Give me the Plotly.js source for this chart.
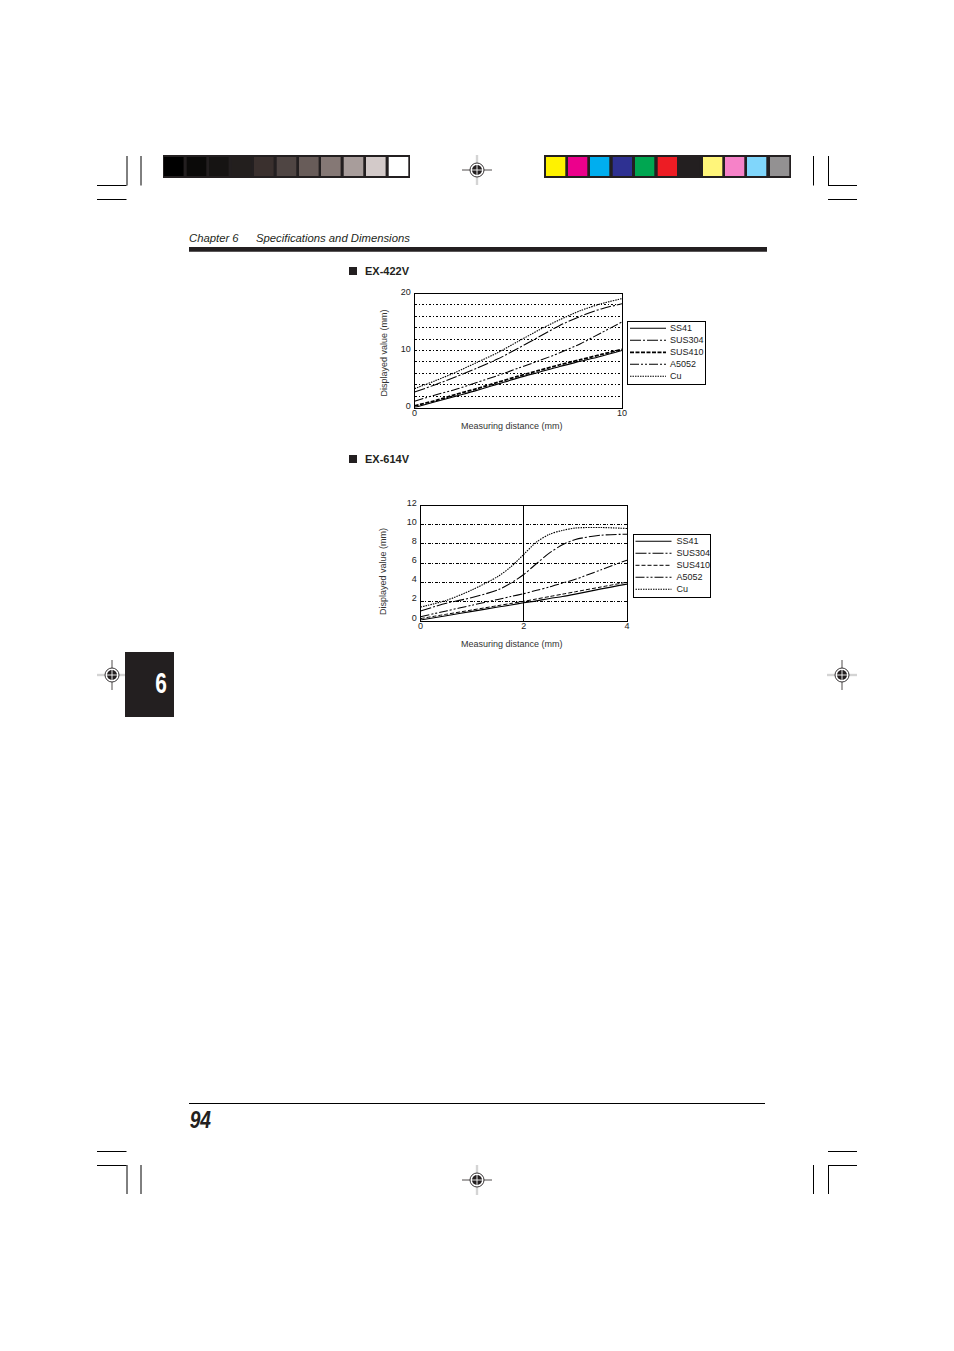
<!DOCTYPE html>
<html><head><meta charset="utf-8">
<script src="https://cdn.plot.ly/plotly-3.0.1.min.js"></script>
<style>html,body{margin:0;padding:0;background:#fff}#c{width:954px;height:1351px}</style></head>
<body><div id="c"></div>
<script>
// ---- data ----
const seriesNames = ['SS41','SUS304','SUS410','A5052','Cu'];

const a_x      = [0,1,2,3,4,5,6,7,8,9,10];
const a_ss41   = [0,1.0,2.0,3.0,4.1,5.2,6.2,7.2,8.1,9.0,10.0];
const a_sus304 = [2.7,4.0,5.4,6.9,8.5,10.4,12.4,14.4,16.0,17.3,18.2];
const a_sus410 = [0.3,1.2,2.3,3.3,4.4,5.5,6.5,7.5,8.4,9.3,10.2];
const a_a5052  = [1.1,2.2,3.2,4.4,5.6,6.9,8.2,9.6,11.2,13.1,15.0];
const a_cu     = [3.3,4.7,6.2,7.9,9.6,11.6,13.6,15.4,17.0,18.2,19.1];

const b_x      = [0,0.5,1,1.5,1.75,2,2.25,2.5,2.75,3,3.5,4];
const b_ss41   = [0.05,0.5,0.95,1.4,1.62,1.85,2.05,2.3,2.5,2.75,3.3,3.8];
const b_sus304 = [1.0,1.8,2.4,3.2,3.9,4.8,5.95,7.05,7.9,8.45,8.9,9.0];
const b_sus410 = [0.2,0.65,1.1,1.55,1.78,2.0,2.25,2.5,2.75,3.0,3.5,4.0];
const b_a5052  = [0.4,1.0,1.6,2.2,2.5,2.8,3.15,3.5,3.9,4.3,5.3,6.3];
const b_cu     = [1.4,2.1,3.2,4.6,5.6,6.9,8.2,9.0,9.4,9.65,9.7,9.6];

const a_yTicks = [0,2,4,6,8,10,12,14,16,18,20];
const a_yText  = ['0','','','','','10','','','','','20'];
const a_xTicks = [0,10];
const b_yTicks = [0,2,4,6,8,10,12];
const b_xTicks = [0,2,4];

const grayPatches  = ['#000000','#0b0a09','#161413','#231f1e','#3a302e','#4f4543','#685c59','#857875','#a89d9b','#d3cac9','#ffffff'];
const colorPatches = ['#fff200','#ec008c','#00aeef','#2e3192','#00a651','#ed1c24','#231f20','#fff57a','#f682c8','#80d6fb','#939192'];

// ---- helpers ----
const W = 954, H = 1351, INK = '#231f20', FONT = '"Liberation Sans", Arial, sans-serif';
const px = x => x / W, py = y => 1 - y / H;
const shapes = [], annotations = [];
const rect = (x0,y0,x1,y1,fill) => shapes.push({type:'rect',xref:'paper',yref:'paper',x0:px(x0),x1:px(x1),y0:py(y0),y1:py(y1),fillcolor:fill,line:{width:0},layer:'below'});
const seg = (x0,y0,x1,y1,color,w) => shapes.push({type:'line',xref:'paper',yref:'paper',x0:px(x0),x1:px(x1),y0:py(y0),y1:py(y1),line:{color:color||'#000000',width:w||1},layer:'below'});
const circ = (cx,cy,r,fill,lc,lw) => shapes.push({type:'circle',xref:'paper',yref:'paper',x0:px(cx-r),x1:px(cx+r),y0:py(cy+r),y1:py(cy-r),fillcolor:fill,line:{color:lc||fill,width:lw||0},layer:'below'});
const label = (x,y,text,size,opts) => annotations.push(Object.assign({xref:'paper',yref:'paper',x:px(x),y:py(y),text:text,showarrow:false,xanchor:'left',yanchor:'middle',font:{family:FONT,size:size,color:INK}},opts||{}));

// colour bars
rect(163,155,410,178,INK);
rect(544,155,791,178,INK);
const grayEdges = [164,186.7,209,231.7,254,276.7,299,321,343.7,366,388.7];
grayPatches.forEach((c,i)=>rect(grayEdges[i],157,grayEdges[i]+19.6,176,c));
const colEdges = [546,568,590,612.7,635,657.7,680,703,725,747,770];
colorPatches.forEach((c,i)=>rect(colEdges[i],157,colEdges[i]+19.3,176,c));

// crop marks
[[127,141,97,126.5],[828.5,813.5,828,857]].forEach(m=>{
  const outerV = m[0], innerV = m[1];
  seg(outerV,156,outerV,185.5); seg(innerV,156,innerV,185.5);
  seg(m[2],185.5,m[3],185.5); seg(m[2],199.5,m[3],199.5);
  seg(outerV,1165,outerV,1194); seg(innerV,1165,innerV,1194);
  seg(m[2],1165.5,m[3],1165.5); seg(m[2],1151.5,m[3],1151.5);
});

// registration marks
function reg(cx,cy,vertGray){
  const g='#d4d4d4';
  if(vertGray){ seg(cx,cy-15,cx,cy+15,g,2.4); seg(cx-15,cy,cx+15,cy,INK,0.8); }
  else { seg(cx-15,cy,cx+15,cy,g,2.4); seg(cx,cy-15,cx,cy+15,INK,0.8); }
  circ(cx,cy,7,'#ffffff',INK,0.9);
  circ(cx,cy,5,INK);
  seg(cx-5,cy,cx+5,cy,'#ffffff',0.9); seg(cx,cy-5,cx,cy+5,'#ffffff',0.9);
}
reg(477,170,true); reg(477,1180,true); reg(112,675,false); reg(842,675,false);

// chapter tab, header, footer
rect(125,652,174,717,INK);
label(160.5,683,'<b>6</b>',29,{xanchor:'center',font:{family:FONT,size:29,color:'#ffffff'}});
label(187,238.3,'<i>Chapter 6</i>',11.3);
label(253.5,238.3,'<i>Specifications and Dimensions</i>',11.3);
rect(189,247,767,251.7,INK);
seg(189,1103.5,765,1103.5,'#000000',1);
label(185,1119.5,'<b><i>94</i></b>',24);

// section headings
rect(349,267,357,275,INK);
label(362.5,271,'<b>EX-422V</b>',11);
rect(349,455,357,463,INK);
label(362.5,459,'<b>EX-614V</b>',11);

// axis titles
const titleOpts = {font:{family:FONT,size:9,color:'#333333'}};
label(511.5,426,'Measuring distance (mm)',9,Object.assign({xanchor:'center'},titleOpts));
label(511.5,644,'Measuring distance (mm)',9,Object.assign({xanchor:'center'},titleOpts));
label(383,353.5,'Displayed value (mm)',9,Object.assign({xanchor:'center',textangle:-90},titleOpts));
label(383.5,571.5,'Displayed value (mm)',9,Object.assign({xanchor:'center',textangle:-90},titleOpts));

// ---- traces ----
const DASH_304 = '11px,2px,2px,2px', DASH_5052 = '9px,2px,2px,2px,2px,2px', DOT = '1.5px,1px';
const styleA = [
 {dash:'solid',width:1.1},{dash:DASH_304,width:1.05},{dash:'4px,1.5px',width:1.8},{dash:DASH_5052,width:1.05},{dash:DOT,width:1.1}];
const styleB = [
 {dash:'solid',width:1.1},{dash:DASH_304,width:1.05},{dash:'4px,2px',width:1},{dash:DASH_5052,width:1.05},{dash:DOT,width:1.1}];
const mk = (x,y,i,st,xa,ya,leg)=>({x:x,y:y,name:seriesNames[i],type:'scatter',mode:'lines',xaxis:xa,yaxis:ya,legend:leg,
  line:Object.assign({color:'#000000',shape:'spline',smoothing:0.8},st[i]),hoverinfo:'x+y+name'});
const data = [a_ss41,a_sus304,a_sus410,a_a5052,a_cu].map((y,i)=>mk(a_x,y,i,styleA,'x','y','legend'))
 .concat([b_ss41,b_sus304,b_sus410,b_a5052,b_cu].map((y,i)=>mk(b_x,y,i,styleB,'x2','y2','legend2')));

const tf = {family:FONT,size:9,color:'#222222'};
const common = {showline:true,mirror:true,linecolor:'#000000',linewidth:1,ticks:'',tickfont:tf,zeroline:false,automargin:false,tickmode:'array'};
const gridY = {showgrid:true,gridcolor:'#000000',gridwidth:0.8};

const legendCfg = (x,y)=>({x:px(x),y:py(y),xanchor:'left',yanchor:'top',bgcolor:'#ffffff',bordercolor:'#000000',borderwidth:1,
  font:{family:FONT,size:9,color:'#222222'},itemwidth:36,itemclick:false,itemdoubleclick:false,tracegroupgap:0,traceorder:'normal'});

const layout = {
  width:W,height:H,margin:{l:0,r:0,t:0,b:0},paper_bgcolor:'#ffffff',plot_bgcolor:'#ffffff',showlegend:true,
  xaxis:Object.assign({},common,{domain:[px(414.5),px(622)],range:[0,10],tickvals:a_xTicks,showgrid:false,anchor:'y',ticklabelstandoff:-3}),
  yaxis:Object.assign({},common,gridY,{griddash:'2.5px,1.5px,1.5px,1.5px',domain:[py(407.5),py(293.5)],range:[0,20],tickvals:a_yTicks,ticktext:a_yText,anchor:'x',ticklabelshift:-2,ticklabelstandoff:1}),
  xaxis2:Object.assign({},common,{domain:[px(420.5),px(627)],range:[0,4],tickvals:b_xTicks,showgrid:true,gridcolor:'#000000',gridwidth:1,anchor:'y2',ticklabelstandoff:-3}),
  yaxis2:Object.assign({},common,gridY,{griddash:'3px,1.5px,1px,1.5px',domain:[py(620.5),py(505.5)],range:[0,12],tickvals:b_yTicks,anchor:'x2',ticklabelshift:-3,ticklabelstandoff:1}),
  legend:legendCfg(626.5,320.5),
  legend2:legendCfg(632.5,533.5),
  shapes:shapes,annotations:annotations
};

// Plotly's legend has a fixed minimum row height; tighten rows and box to the reference's compact legend.
function compactLegend(sel,w,h,dx,textX){
  const g = document.querySelector(sel); if(!g) return;
  g.querySelectorAll('.traces').forEach((el,i)=>{
    el.setAttribute('transform','translate('+dx+','+(6.5+12*i)+')');
    const tx = el.querySelector('.legendtext');
    if(tx) tx.setAttribute('x', textX);
    const ln = el.querySelector('.legendlines');
    if(ln) ln.setAttribute('transform','translate(0,1.3)');
  });
  const groups = g.querySelector('.groups'); if(groups) groups.setAttribute('transform','translate(0,0)');
  const bg = g.querySelector('rect.bg');
  if(bg){ bg.setAttribute('width',w); bg.setAttribute('height',h); }
}
// Tab numeral and page number are set in a condensed face in the reference.
function condense(text,f){
  document.querySelectorAll('.annotation-text').forEach(t=>{
    if(t.textContent===text){
      const b=t.getBBox(), cx=b.x+b.width/2;
      t.setAttribute('transform','translate('+cx+',0) scale('+f+',1) translate('+(-cx)+',0)');
    }
  });
}
Plotly.newPlot('c',data,layout,{displayModeBar:false}).then(()=>{
  compactLegend('g.legend',78,63,-1.5,45);
  compactLegend('g.legend2',77,63,-2,43.5);
  condense('6',0.72);
  condense('94',0.8);
});
</script></body></html>
